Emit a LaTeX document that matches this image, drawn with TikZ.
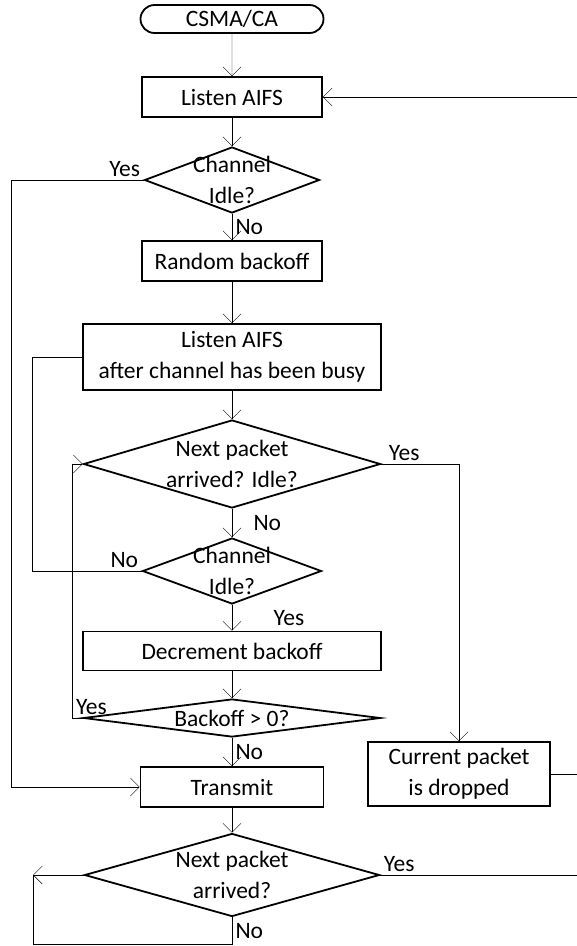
\documentclass[tikz,border=0pt]{standalone}
\usepackage{fontspec}
\setmainfont{Carlito}
\usetikzlibrary{shapes.geometric, shapes.misc, arrows.meta, positioning}
\tikzset{
->, % connectors are directed
>={Straight Barb[length=9pt, width=18pt]}, % open arrow heads
line width=1.4pt, % width of the connectors
every node/.style={font=\fontsize{23.5}{31}\selectfont}, % one text size for the whole chart
terminal/.style={rounded rectangle, draw, line width=1.8pt, minimum width=183pt, minimum height=28pt, inner sep=0pt},
process/.style={rectangle, draw, line width=1.8pt, align=center},
decision/.style={diamond, draw, line width=1.8pt, inner sep=0pt},
answer/.style={}, % Yes / No on the branches
}

\begin{document}
\begin{tikzpicture}[x=1pt, y=-1pt]
    \useasboundingbox (0,0) rectangle (577,946);
    \clip (0,0) rectangle (577,946);

    % Main column
    \node[terminal] (st) at (232,19) {CSMA/CA};
    \node[process, minimum width=180pt, minimum height=40pt, below of=st, node distance=78pt] (la1) {Listen AIFS};
    \node[decision, minimum width=175pt, minimum height=66pt, below of=la1, node distance=83pt, label={[align=center]center:Channel\\Idle?}] (ci1) {};
    \node[process, minimum width=180pt, minimum height=40pt, below of=ci1, node distance=81pt] (rb) {Random backoff};
    \node[process, minimum width=298pt, minimum height=66pt, below of=rb, node distance=96pt] (la2) {Listen AIFS\\after channel has been busy};
    \node[decision, minimum width=297pt, minimum height=88pt, below of=la2, node distance=107pt, label={[align=center]center:Next packet\\arrived? Idle?}] (np1) {};
    \node[decision, minimum width=179pt, minimum height=66pt, below of=np1, node distance=107pt, label={[align=center]center:Channel\\Idle?}] (ci2) {};
    \node[process, minimum width=298pt, minimum height=39pt, below of=ci2, node distance=80pt] (db) {Decrement backoff};
    \node[decision, minimum width=297pt, minimum height=38pt, below of=db, node distance=67pt, label={center:Backoff > 0?}] (bo) {};
    \node[process, minimum width=183pt, minimum height=40pt, below of=bo, node distance=69pt] (tx) {Transmit};
    \node[decision, minimum width=295pt, minimum height=83pt, below of=tx, node distance=88pt, label={[align=center]center:Next packet\\arrived?}] (np2) {};

    % Drop branch
    \node[process, minimum width=182pt, minimum height=64pt, right of=tx, node distance=227pt, yshift=13pt] (dropped) {Current packet\\is dropped};
    \coordinate[left of=np2, node distance=199pt] (wait);

    \draw (st) -- (la1);
    \draw (la1) -- (ci1);
    \draw (ci1) -- node[answer, right] {No} (rb);
    \draw (rb) -- (la2);
    \draw (la2) -- (np1);
    \draw (np1) -- node[answer, right, xshift=18pt] {No} (ci2);
    \draw (ci2) -- node[answer, right, xshift=38pt] {Yes} (db);
    \draw (db) -- (bo);
    \draw (bo) -- node[answer, right] {No} (tx);
    \draw (tx) -- (np2);

    % Side loops
    \draw (ci1.west) node[answer, above left] {Yes} -- ++(-132,0) |- (tx.west);
    \draw[-] (ci2.west) node[answer, above left] {No} -- ++(-109,0) |- (la2.west);
    \draw (bo.west) -- ++(-10,0) node[answer, above right] {Yes} |- (np1.west);
    \draw (np1.east) node[answer, above right, xshift=4pt] {Yes} -| (dropped);
    \draw (np2.west) -- (wait);
    \draw[-] (np2.south) -- node[answer, right] {No} ++(0,27) -| (wait);
    \draw[-] (dropped.east) -- ++(40,0);
    \draw (np2.east) node[answer, above right] {Yes} -- ++(213,0) |- (la1.east);
\end{tikzpicture}
\end{document}
